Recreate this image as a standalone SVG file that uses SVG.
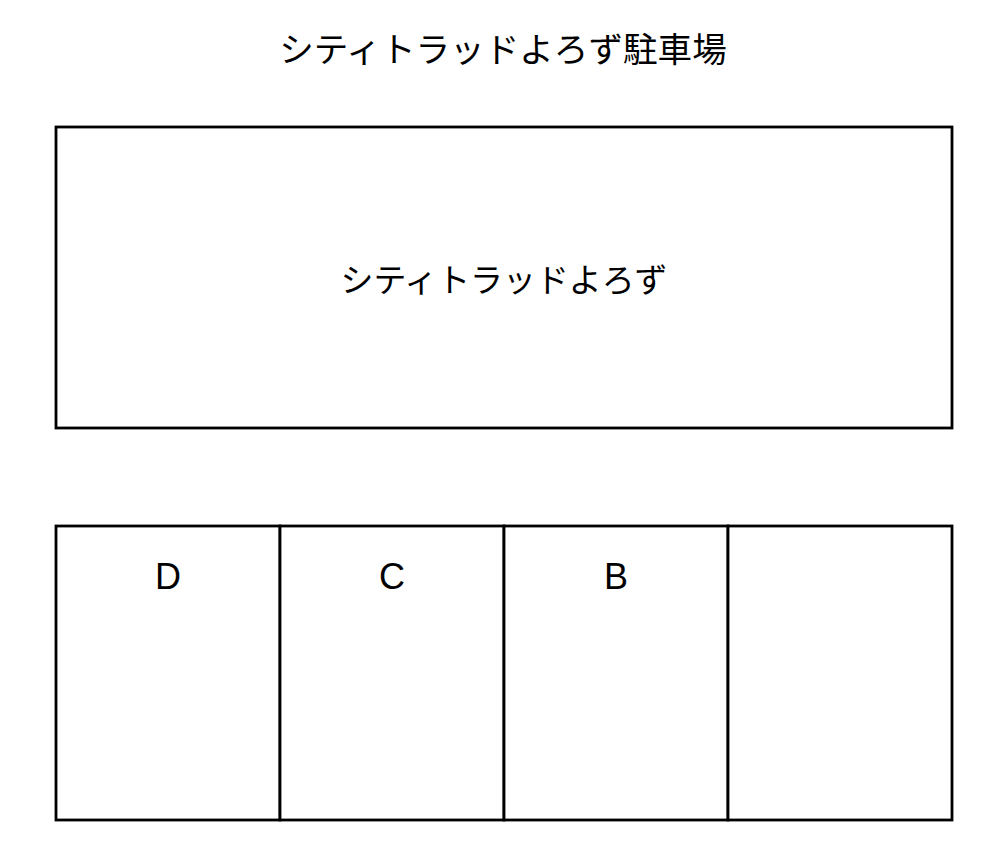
<svg xmlns="http://www.w3.org/2000/svg" width="1002" height="858" viewBox="0 0 1002 858">
<style>
.box{fill:#fff;stroke:#000;stroke-width:2.8}
.jp{font-family:"Noto Sans CJK JP","Noto Sans",sans-serif;fill:#000;text-anchor:middle}
.lbl{font-family:"Liberation Sans",Arial,sans-serif;font-size:36px;fill:#000;text-anchor:middle}
</style>
<rect width="1002" height="858" fill="#fff"/>
<g id="title"><text class="jp" x="503" y="62" font-size="34.6">シティトラッドよろず駐車場</text></g>
<g id="building">
<rect class="box" x="56" y="127" width="896" height="301"/>
<text class="jp" x="504" y="292" font-size="32.9">シティトラッドよろず</text>
</g>
<g id="space-D"><rect class="box" x="56" y="526" width="224" height="294"/><text class="lbl" x="168" y="589">D</text></g>
<g id="space-C"><rect class="box" x="280" y="526" width="224" height="294"/><text class="lbl" x="392" y="589">C</text></g>
<g id="space-B"><rect class="box" x="504" y="526" width="224" height="294"/><text class="lbl" x="616" y="589">B</text></g>
<g id="space-A"><rect class="box" x="728" y="526" width="224" height="294"/></g>
<g id="connectors"></g>
</svg>
